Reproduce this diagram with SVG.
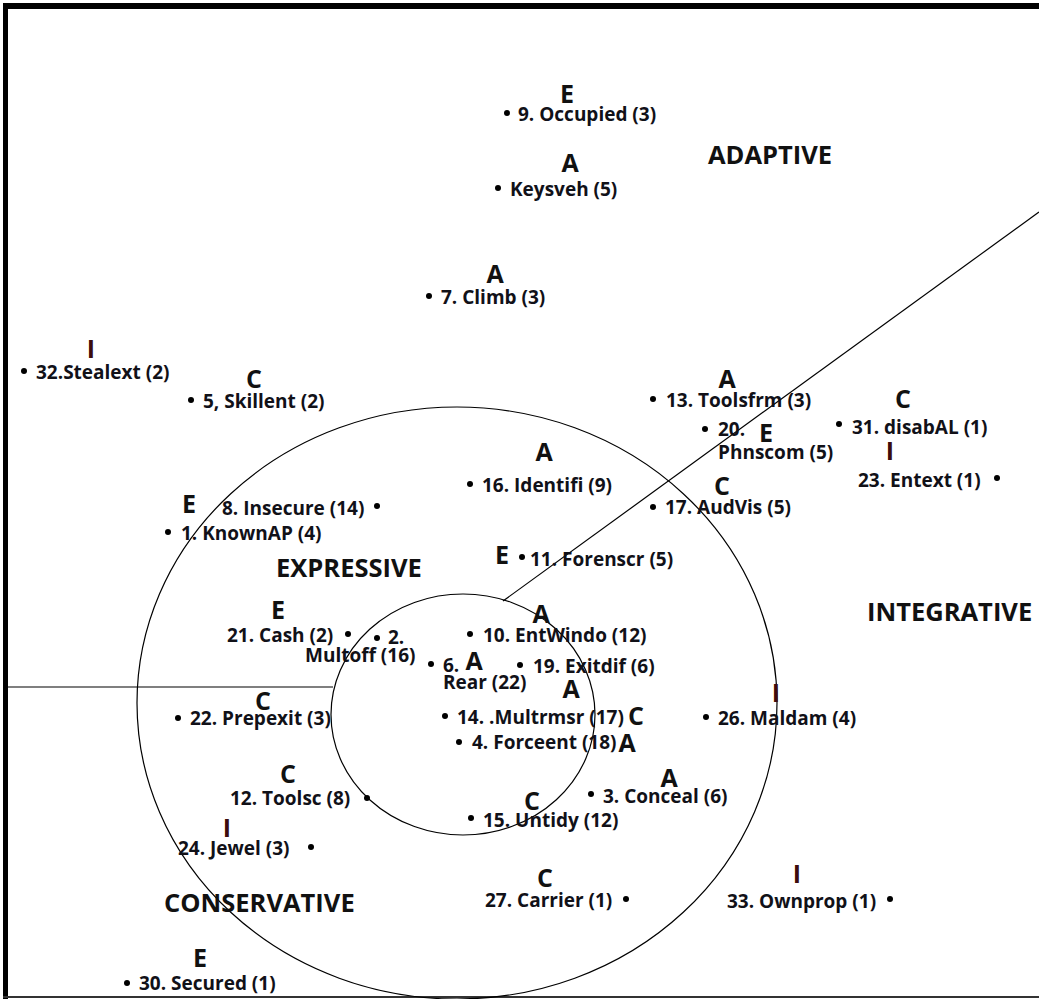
<svg xmlns="http://www.w3.org/2000/svg" width="1039" height="999" viewBox="0 0 1039 999">
  <style>
    .lbl { font-family: "Open Sans", "Liberation Sans", sans-serif; font-weight: 700; font-size: 19px; fill: #111118; }
    .cat { font-family: "Open Sans", "Liberation Sans", sans-serif; font-weight: 700; font-size: 25px; fill: #111; text-anchor: middle; }
    .cat.i { fill: #3d0c0c; }
    .zone { font-family: "Open Sans", "Liberation Sans", sans-serif; font-weight: 700; font-size: 25.5px; fill: #111; }
    .dot { fill: #000; }
    .ring { fill: none; stroke: #000; stroke-width: 1.2; }
    .rule { stroke: #000; stroke-width: 1.2; fill: none; }
  </style>

  <rect x="0" y="0" width="1039" height="999" fill="#fff"/>

  <!-- frame -->
  <g id="frame">
    <rect x="3" y="3" width="1036" height="6" fill="#000"/>
    <rect x="3" y="3" width="5" height="996" fill="#000"/>
    <line x1="3" y1="997" x2="1039" y2="997" stroke="#333" stroke-width="2"/>
  </g>

  <!-- rings -->
  <g id="rings">
    <ellipse class="ring" cx="457" cy="703" rx="320" ry="296"/>
    <ellipse class="ring" cx="463" cy="714.5" rx="132" ry="120.5"/>
  </g>

  <!-- dividing lines -->
  <g id="connectors">
    <line class="rule" x1="8" y1="687" x2="333" y2="687" stroke-width="1.6"/>
    <line class="rule" x1="503" y1="601" x2="1039" y2="212"/>
  </g>

  <!-- zone titles -->
  <g id="zones">
    <text class="zone" x="708" y="164">ADAPTIVE</text>
    <text class="zone" x="276" y="577">EXPRESSIVE</text>
    <text class="zone" x="867" y="621">INTEGRATIVE</text>
    <text class="zone" x="164" y="912">CONSERVATIVE</text>
  </g>

  <g id="n9"><text class="cat" x="567" y="103">E</text><circle class="dot" cx="507" cy="113" r="3"/><text class="lbl" x="518" y="121">9. Occupied (3)</text></g>
  <g id="nKeysveh"><text class="cat" x="570" y="172">A</text><circle class="dot" cx="498" cy="188" r="3"/><text class="lbl" x="510" y="196">Keysveh (5)</text></g>
  <g id="n7"><text class="cat" x="495" y="283">A</text><circle class="dot" cx="429" cy="296" r="3"/><text class="lbl" x="441" y="304">7. Climb (3)</text></g>
  <g id="n32"><text class="cat i" x="91" y="358">I</text><circle class="dot" cx="24" cy="371" r="3"/><text class="lbl" x="36" y="379">32.Stealext (2)</text></g>
  <g id="n5"><text class="cat" x="254" y="388">C</text><circle class="dot" cx="191" cy="400" r="3"/><text class="lbl" x="203" y="408">5, Skillent (2)</text></g>
  <g id="n8"><circle class="dot" cx="377" cy="506" r="3"/><text class="lbl" x="222" y="515">8. Insecure (14)</text></g>
  <g id="n1"><text class="cat" x="189" y="513">E</text><circle class="dot" cx="168" cy="532" r="3"/><text class="lbl" x="181" y="540">1. KnownAP (4)</text></g>
  <g id="n16"><text class="cat" x="544" y="461">A</text><circle class="dot" cx="470" cy="484" r="3"/><text class="lbl" x="482" y="492">16. Identifi (9)</text></g>
  <g id="n11"><text class="cat" x="502" y="564">E</text><circle class="dot" cx="522" cy="557" r="3"/><text class="lbl" x="530" y="566">11. Forenscr (5)</text></g>
  <g id="n13"><text class="cat" x="727" y="388">A</text><circle class="dot" cx="653" cy="399" r="3"/><text class="lbl" x="666" y="407">13. Toolsfrm (3)</text></g>
  <g id="n20"><text class="cat" x="766" y="442">E</text><circle class="dot" cx="705" cy="429" r="3"/><text class="lbl" x="718" y="436">20.</text><text class="lbl" x="718" y="459">Phnscom (5)</text></g>
  <g id="n31"><text class="cat" x="903" y="408">C</text><circle class="dot" cx="839" cy="424" r="3"/><text class="lbl" x="852" y="434">31. disabAL (1)</text></g>
  <g id="n23"><text class="cat i" x="890" y="460">I</text><circle class="dot" cx="997" cy="478" r="3"/><text class="lbl" x="858" y="487">23. Entext (1)</text></g>
  <g id="n17"><text class="cat" x="722" y="495">C</text><circle class="dot" cx="653" cy="507" r="3"/><text class="lbl" x="665" y="514">17. AudVis (5)</text></g>
  <g id="n21"><text class="cat" x="278" y="619">E</text><circle class="dot" cx="348" cy="634" r="3"/><text class="lbl" x="227" y="642">21. Cash (2)</text></g>
  <g id="n2"><circle class="dot" cx="377" cy="638" r="3"/><text class="lbl" x="388" y="644">2.</text><text class="lbl" x="305" y="662">Multoff (16)</text></g>
  <g id="n10"><text class="cat" x="541" y="623">A</text><circle class="dot" cx="470" cy="634" r="3"/><text class="lbl" x="483" y="642">10. EntWindo (12)</text></g>
  <g id="n6"><text class="cat" x="474" y="670">A</text><circle class="dot" cx="431" cy="664" r="3"/><text class="lbl" x="443" y="672">6.</text><text class="lbl" x="443" y="689">Rear (22)</text></g>
  <g id="n19"><text class="cat" x="571" y="698">A</text><circle class="dot" cx="520" cy="665" r="3"/><text class="lbl" x="533" y="673">19. Exitdif (6)</text></g>
  <g id="n22"><text class="cat" x="263" y="710">C</text><circle class="dot" cx="178" cy="718" r="3"/><text class="lbl" x="190" y="725">22. Prepexit (3)</text></g>
  <g id="n14"><circle class="dot" cx="445" cy="716" r="3"/><text class="lbl" x="457" y="724">14. .Multrmsr (17)</text><text class="cat" x="636" y="725">C</text></g>
  <g id="n4"><circle class="dot" cx="459" cy="742" r="3"/><text class="lbl" x="472" y="749">4. Forceent (18)</text><text class="cat" x="627" y="752">A</text></g>
  <g id="n26"><text class="cat i" x="776" y="702">I</text><circle class="dot" cx="706" cy="717" r="3"/><text class="lbl" x="718" y="725">26. Maldam (4)</text></g>
  <g id="n3"><text class="cat" x="669" y="787">A</text><circle class="dot" cx="591" cy="794" r="3"/><text class="lbl" x="603" y="803">3. Conceal (6)</text></g>
  <g id="n12"><text class="cat" x="288" y="783">C</text><circle class="dot" cx="367" cy="798" r="3"/><text class="lbl" x="230" y="805">12. Toolsc (8)</text></g>
  <g id="n15"><text class="cat" x="532" y="810">C</text><circle class="dot" cx="471" cy="818" r="3"/><text class="lbl" x="483" y="827">15. Untidy (12)</text></g>
  <g id="n24"><text class="cat i" x="227" y="837">I</text><circle class="dot" cx="311" cy="847" r="3"/><text class="lbl" x="178" y="855">24. Jewel (3)</text></g>
  <g id="n27"><text class="cat" x="545" y="887">C</text><circle class="dot" cx="626" cy="899" r="3"/><text class="lbl" x="485" y="907">27. Carrier (1)</text></g>
  <g id="n33"><text class="cat i" x="797" y="883">I</text><circle class="dot" cx="890" cy="899" r="3"/><text class="lbl" x="727" y="908">33. Ownprop (1)</text></g>
  <g id="n30"><text class="cat" x="200" y="967">E</text><circle class="dot" cx="127" cy="983" r="3"/><text class="lbl" x="139" y="990">30. Secured (1)</text></g>
</svg>
